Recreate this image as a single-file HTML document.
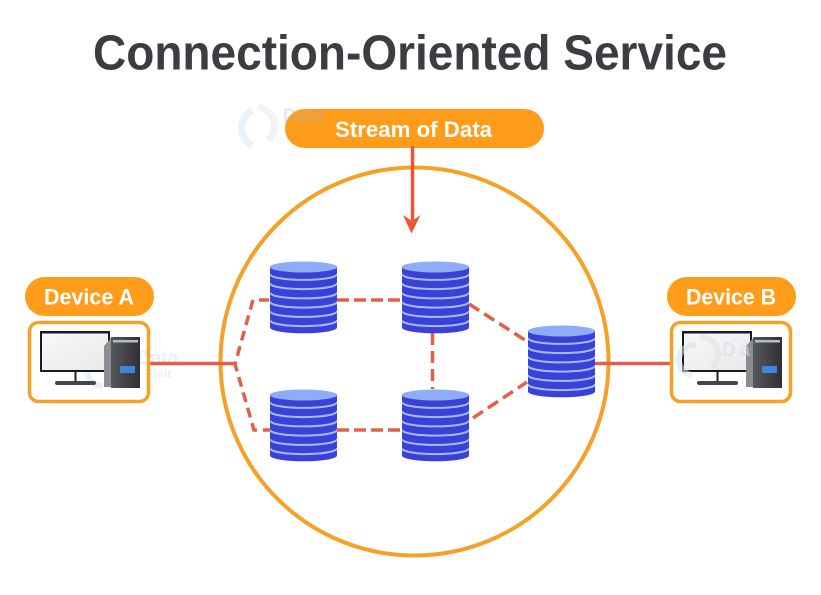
<!DOCTYPE html>
<html lang="en">
<head>
<meta charset="utf-8">
<title>Connection-Oriented Service</title>
<style>
html,body{margin:0;padding:0;background:#fff}
svg{display:block}
text{font-family:"Liberation Sans",sans-serif}
</style>
</head>
<body>
<svg width="821" height="595" viewBox="0 0 821 595" xmlns="http://www.w3.org/2000/svg">
<defs>
<linearGradient id="scr" x1="0" y1="0" x2="1" y2="1"><stop offset="0" stop-color="#f8f8f8"/><stop offset="1" stop-color="#e9e9e9"/></linearGradient>
<linearGradient id="twr" x1="0" y1="0" x2="1" y2="0"><stop offset="0" stop-color="#55585c"/><stop offset="1" stop-color="#2f3033"/></linearGradient>
<g id="cyl">
<path d="M0 60.5V66.5A33.5 5.8 0 0 0 67 66.5V60.5Z" fill="#3a41d8"/><ellipse cx="33.5" cy="60.5" rx="33.5" ry="5.6" fill="#a3bcf8"/>
<path d="M0 51.3V58.3A33.5 5.8 0 0 0 67 58.3V51.3Z" fill="#3a41d8"/><ellipse cx="33.5" cy="51.3" rx="33.5" ry="5.6" fill="#a3bcf8"/>
<path d="M0 42V49.1A33.5 5.8 0 0 0 67 49.1V42Z" fill="#3a41d8"/><ellipse cx="33.5" cy="42" rx="33.5" ry="5.6" fill="#a3bcf8"/>
<path d="M0 32.8V39.8A33.5 5.8 0 0 0 67 39.8V32.8Z" fill="#3a41d8"/><ellipse cx="33.5" cy="32.8" rx="33.5" ry="5.6" fill="#a3bcf8"/>
<path d="M0 23.5V30.6A33.5 5.8 0 0 0 67 30.6V23.5Z" fill="#3a41d8"/><ellipse cx="33.5" cy="23.5" rx="33.5" ry="5.6" fill="#a3bcf8"/>
<path d="M0 14.3V21.3A33.5 5.8 0 0 0 67 21.3V14.3Z" fill="#3a41d8"/><ellipse cx="33.5" cy="14.3" rx="33.5" ry="5.6" fill="#a3bcf8"/>
<path d="M0 6V12.1A33.5 5.8 0 0 0 67 12.1V6Z" fill="#3a41d8"/><ellipse cx="33.5" cy="6" rx="33.5" ry="5.5" fill="#8dadf6"/>
</g>
<g id="pc">
<rect x="40" y="331" width="70" height="41" fill="#1b1b1e"/>
<rect x="42" y="333.5" width="66" height="36.5" fill="url(#scr)"/>
<rect x="74.5" y="372" width="2" height="9" fill="#222"/>
<rect x="55" y="381" width="41" height="4" rx="2" fill="#44474a"/>
<path d="M104 387V346L112 337V387Z" fill="#8a8d91"/>
<rect x="111" y="337" width="29" height="51" fill="url(#twr)"/>
<rect x="113" y="340" width="25" height="2.5" fill="#b9bcbf"/>
<rect x="120" y="366" width="15" height="7" fill="#3e86dc"/>
</g>
</defs>

<rect width="821" height="595" fill="#fff"/>

<text x="93" y="69.5" font-size="49" font-weight="700" fill="#3b3d42" textLength="634" lengthAdjust="spacingAndGlyphs">Connection-Oriented Service</text>

<g opacity=".5">
<path d="M258 107A19 19 0 0 1 268 140" fill="none" stroke="#e4e8ec" stroke-width="7"/>
<path d="M252 111A19 19 0 0 0 252 145" fill="none" stroke="#d5e6f5" stroke-width="7"/>
</g>
<g opacity=".45">
<path d="M103 354A16 16 0 0 0 103 386" fill="none" stroke="#cfe2f2" stroke-width="6"/>
<text x="137" y="364" font-size="19" font-weight="700" fill="#cfdfee">Data</text>
<text x="145" y="378" font-size="13" font-weight="700" fill="#d8e2ea">Flair</text>
</g>

<circle cx="414.5" cy="361.5" r="194" fill="none" stroke="#f5a027" stroke-width="4"/>

<rect x="285" y="109" width="259" height="39" rx="19.5" fill="#ff9c1a"/>
<text x="283" y="122" font-size="19" font-weight="700" fill="#9fb5c8" opacity=".3">Data</text>
<text x="335" y="137" font-size="22" font-weight="700" fill="#fff" textLength="157" lengthAdjust="spacingAndGlyphs">Stream of Data</text>

<path d="M412.5 146V222" stroke="#ef5438" stroke-width="3.5" fill="none"/>
<polygon points="403,215 412,221 420.5,215 411.5,233.5" fill="#ef5438"/>

<g fill="none" stroke="#e0604a">
<path d="M150 363.5H235" stroke-width="3.5"/>
<path d="M595 363.5H670" stroke-width="3.5"/>
<g stroke-width="3.5">
<path d="M269 300H253L235 364L254 430H270" stroke-dasharray="10 6"/>
<path d="M337 300H402" stroke-dasharray="12 5"/>
<path d="M337 430H402" stroke-dasharray="12 5"/>
<path d="M432.5 333V389" stroke-dasharray="12 6"/>
<path d="M469 304L528 342" stroke-dasharray="12 6"/>
<path d="M473 418L527 382" stroke-dasharray="12 6"/>
</g>
</g>

<use href="#cyl" x="270" y="261"/>
<use href="#cyl" x="402" y="261"/>
<use href="#cyl" x="270" y="389"/>
<use href="#cyl" x="402" y="389"/>
<use href="#cyl" x="528" y="325"/>

<rect x="25" y="277" width="129" height="39" rx="19.5" fill="#ff9c1a"/>
<text x="44" y="304.5" font-size="22" font-weight="700" fill="#fff" textLength="90" lengthAdjust="spacingAndGlyphs">Device A</text>
<rect x="29.5" y="322.5" width="119" height="79" rx="9" fill="none" stroke="#f5a027" stroke-width="3.5"/>
<use href="#pc"/>

<rect x="667" y="277" width="129" height="39" rx="19.5" fill="#ff9c1a"/>
<text x="686" y="304.5" font-size="22" font-weight="700" fill="#fff" textLength="90" lengthAdjust="spacingAndGlyphs">Device B</text>
<rect x="671.5" y="322.5" width="119" height="79" rx="9" fill="none" stroke="#f5a027" stroke-width="3.5"/>
<use href="#pc" x="642"/>
<g opacity=".55">
<path d="M700 337A17 17 0 0 1 712 367" fill="none" stroke="#dfe3e7" stroke-width="6"/>
<path d="M696 345A15 15 0 0 0 692 375" fill="none" stroke="#cfe2f2" stroke-width="6"/>
<text x="722" y="356" font-size="19" font-weight="700" fill="#cfdfee" textLength="28">Da</text>
</g>
</svg>
</body>
</html>
